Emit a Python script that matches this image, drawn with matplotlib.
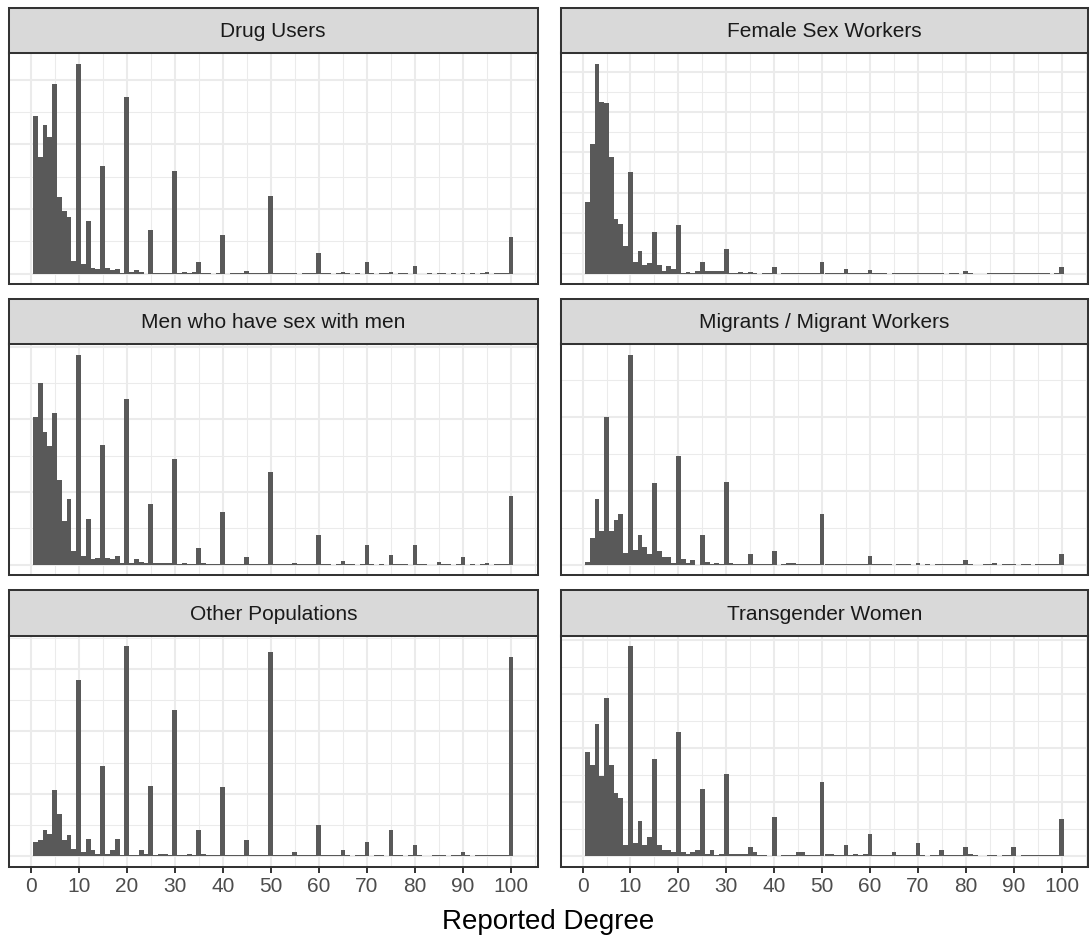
import matplotlib
matplotlib.use("Agg")
import matplotlib.pyplot as plt
import numpy as np

plt.rcParams["font.family"] = ["Liberation Sans", "DejaVu Sans"]

# Reported degree (1..100) and counts per population
degree = list(range(1, 101))

drug_users = [
    243, 181, 230, 211, 294, 119, 96, 87, 20, 325,
    15, 81, 8, 7, 166, 8, 5, 7, 1, 273,
    2, 5, 2, 0, 67, 1, 1, 1, 1, 159,
    1, 2, 1, 2, 18, 1, 1, 0, 1, 60,
    0, 1, 1, 1, 4, 1, 1, 1, 1, 120,
    1, 1, 1, 1, 1, 0, 1, 1, 1, 31,
    1, 1, 0, 1, 2, 1, 0, 1, 0, 18,
    1, 0, 1, 1, 3, 0, 1, 1, 0, 11,
    0, 0, 1, 0, 1, 1, 0, 1, 0, 1,
    0, 1, 0, 1, 2, 0, 1, 1, 1, 56,
]

female_sex_workers = [
    89, 160, 260, 212, 211, 144, 68, 61, 34, 126,
    14, 28, 11, 13, 52, 10, 3, 9, 5, 60,
    1, 2, 1, 3, 14, 3, 3, 3, 3, 30,
    1, 1, 2, 1, 2, 1, 0, 1, 1, 8,
    0, 1, 1, 1, 1, 1, 1, 1, 1, 14,
    1, 1, 1, 1, 5, 1, 1, 1, 1, 4,
    1, 1, 1, 0, 1, 1, 1, 1, 1, 1,
    1, 1, 1, 1, 1, 0, 1, 1, 0, 3,
    1, 0, 0, 0, 1, 1, 1, 1, 1, 1,
    1, 1, 1, 1, 1, 1, 1, 0, 1, 8,
]

msm = [
    203, 250, 183, 163, 208, 116, 60, 90, 18, 289,
    12, 63, 7, 9, 164, 9, 7, 12, 2, 228,
    2, 7, 4, 2, 83, 2, 2, 2, 2, 145,
    1, 2, 1, 1, 23, 2, 1, 1, 1, 72,
    1, 1, 1, 1, 10, 1, 1, 1, 1, 127,
    1, 1, 1, 1, 2, 1, 1, 1, 1, 41,
    1, 1, 0, 1, 5, 1, 1, 0, 1, 27,
    1, 0, 1, 0, 13, 1, 1, 1, 0, 27,
    1, 1, 0, 0, 4, 1, 1, 0, 1, 10,
    0, 1, 0, 1, 2, 0, 1, 1, 1, 94,
]

migrants = [
    4, 36, 89, 45, 200, 45, 60, 68, 16, 285,
    20, 40, 24, 14, 110, 18, 10, 10, 2, 147,
    8, 2, 6, 0, 40, 4, 1, 2, 1, 112,
    2, 1, 1, 1, 14, 1, 1, 1, 1, 18,
    0, 1, 2, 2, 1, 1, 1, 1, 1, 68,
    1, 1, 1, 1, 1, 1, 1, 1, 1, 12,
    1, 1, 1, 1, 0, 1, 1, 1, 0, 2,
    0, 1, 0, 1, 1, 1, 1, 1, 1, 6,
    1, 0, 0, 1, 1, 2, 0, 1, 1, 1,
    0, 1, 1, 0, 1, 1, 1, 1, 1, 14,
]

other_populations = [
    23, 25, 41, 36, 106, 68, 26, 33, 12, 282,
    7, 28, 10, 4, 145, 4, 9, 28, 1, 337,
    1, 1, 9, 4, 113, 1, 4, 4, 1, 234,
    1, 1, 4, 1, 41, 4, 2, 1, 1, 111,
    1, 1, 1, 1, 25, 1, 1, 2, 1, 327,
    1, 1, 1, 1, 7, 1, 1, 1, 1, 50,
    1, 1, 1, 1, 9, 1, 0, 1, 1, 23,
    0, 1, 1, 0, 41, 1, 1, 0, 1, 17,
    1, 0, 0, 1, 1, 1, 0, 1, 1, 7,
    1, 0, 1, 1, 2, 1, 1, 1, 1, 319,
]

transgender_women = [
    96, 84, 122, 74, 146, 84, 58, 54, 10, 194,
    12, 32, 10, 18, 90, 10, 6, 6, 4, 115,
    4, 2, 4, 6, 62, 2, 6, 1, 2, 76,
    2, 2, 2, 2, 8, 4, 1, 1, 0, 36,
    0, 1, 1, 1, 4, 4, 1, 1, 1, 68,
    2, 2, 1, 1, 10, 1, 2, 1, 2, 20,
    1, 1, 1, 1, 4, 1, 1, 1, 1, 12,
    1, 0, 1, 1, 6, 1, 1, 1, 1, 8,
    2, 1, 0, 0, 1, 1, 0, 1, 1, 8,
    0, 1, 1, 1, 1, 1, 1, 1, 1, 34,
]

panel_titles = [
    "Drug Users", "Female Sex Workers",
    "Men who have sex with men", "Migrants / Migrant Workers",
    "Other Populations", "Transgender Women",
]
panel_counts = [drug_users, female_sex_workers, msm, migrants,
                other_populations, transgender_women]
# y break spacing (major) used for each facet's grid
y_major_step = [100, 50, 100, 100, 100, 50]

x_ticks = list(range(0, 101, 10))

# ---- layout (pixel geometry of a 1091 x 940 canvas) ----
W, H = 1091, 940
fig = plt.figure(figsize=(W / 100, H / 100), dpi=100)

col_x = [(9, 537.5), (561, 1088)]
row_top = [7.5, 298.5, 590]
strip_h = 45.5
panel_h = 231

BAR = "#595959"
GRID = "#EBEBEB"
BORDER = "#333333"
STRIP = "#D9D9D9"

def to_fig(x0, x1, top, bottom):
    return [x0 / W, 1 - bottom / H, (x1 - x0) / W, (bottom - top) / H]

for i, (title, counts) in enumerate(zip(panel_titles, panel_counts)):
    r, c = divmod(i, 2)
    x0, x1 = col_x[c]
    st = row_top[r]
    pt = st + strip_h
    pb = pt + panel_h

    ax = fig.add_axes(to_fig(x0, x1, pt, pb))
    ax.bar(degree, counts, width=1.0, color=BAR, linewidth=0, zorder=3)

    ymax = max(counts)
    ax.set_xlim(-4.5, 105.5)
    ax.set_ylim(-0.05 * ymax, 1.05 * ymax)

    step = y_major_step[i]
    ymaj = np.arange(0, 1.05 * ymax, step)
    ymin = np.arange(step / 2, 1.05 * ymax, step)
    for y in ymin:
        ax.axhline(y, color=GRID, lw=0.75, zorder=1)
    for y in ymaj:
        ax.axhline(y, color=GRID, lw=1.45, zorder=1)
    for x in range(5, 106, 10):
        ax.axvline(x, color=GRID, lw=0.75, zorder=1)
    for x in x_ticks:
        ax.axvline(x, color=GRID, lw=1.45, zorder=1)

    ax.set_yticks([])
    ax.set_xticks(x_ticks)
    if r == 2:
        ax.set_xticklabels([str(t) for t in x_ticks], fontsize=15, color="#4D4D4D")
        ax.tick_params(axis="x", length=4.5, width=1.4, color=BORDER, pad=3)
    else:
        ax.tick_params(axis="x", length=0, labelbottom=False)
    for s in ax.spines.values():
        s.set_color(BORDER)
        s.set_linewidth(1.45)
        s.set_zorder(5)
    ax.set_facecolor("white")

    sax = fig.add_axes(to_fig(x0, x1, st, pt))
    sax.set_facecolor(STRIP)
    sax.set_xticks([])
    sax.set_yticks([])
    for s in sax.spines.values():
        s.set_color(BORDER)
        s.set_linewidth(1.45)
    sax.text(0.5, 0.47, title, ha="center", va="center", fontsize=15,
             color="#1A1A1A", transform=sax.transAxes)

fig.text((9 + 1088) / 2 / W, 1 - 922 / H, "Reported Degree", ha="center",
         va="center", fontsize=20, color="black")

fig.savefig("out.png", dpi=100, facecolor="white")
